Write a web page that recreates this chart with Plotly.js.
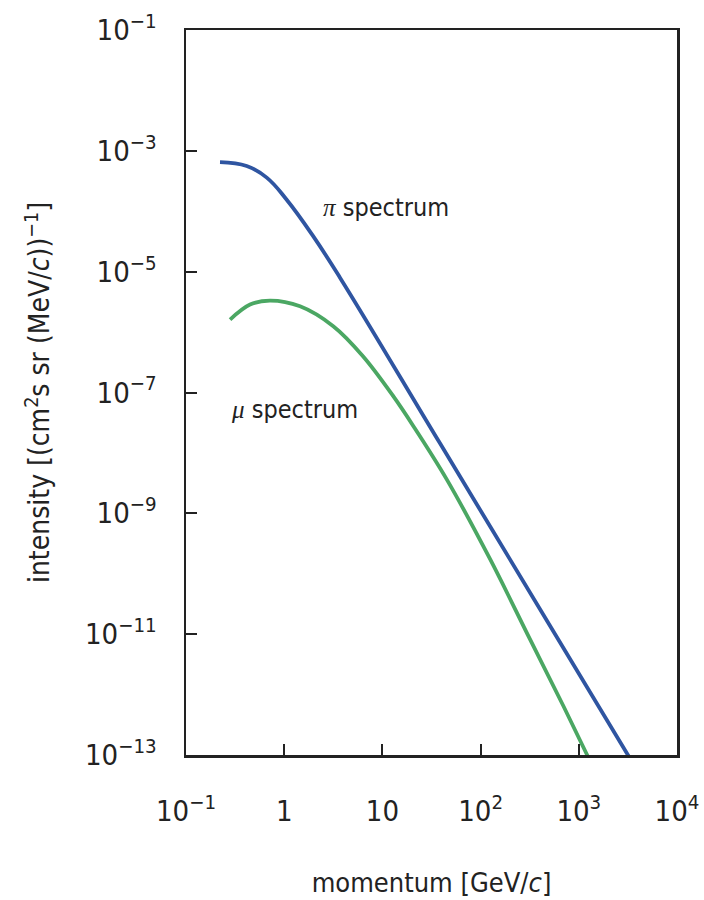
<!DOCTYPE html>
<html>
<head>
<meta charset="utf-8">
<script src="https://cdn.plot.ly/plotly-3.0.1.min.js"></script>
<style>html,body{margin:0;padding:0;background:#fff;}#chart{width:704px;height:900px;}</style>
</head>
<body>
<div id="chart"></div>
<script>
// momentum [GeV/c] and intensity [(cm^2 s sr (MeV/c))^-1]
const piMomentum = [0.222, 0.415, 0.664, 1.06, 1.98, 3.70, 38.6, 403, 4198];
const piIntensity = [6.5e-4, 5.6e-4, 3.6e-4, 1.55e-4, 3.83e-5, 7.96e-6, 1.44e-8, 2.59e-11, 4.67e-14];

const muMomentum = [0.281, 0.449, 0.716, 1.45, 3.16, 6.34, 12.9, 20.7, 45.2, 125, 318, 695, 1202, 1644];
const muIntensity = [1.61e-6, 2.85e-6, 3.32e-6, 2.67e-6, 1.25e-6, 3.98e-7, 8.69e-8, 2.77e-8, 3.65e-9, 1.74e-10, 8.26e-12, 6.53e-13, 1.04e-13, 3.58e-14];

const xTickVals = [0.1, 1, 10, 100, 1000, 10000];
const xTickText = ["10<sup>−1</sup>", "1", "10", "10<sup>2</sup>", "10<sup>3</sup>", "10<sup>4</sup>"];
const yTickVals = [1e-1, 1e-3, 1e-5, 1e-7, 1e-9, 1e-11, 1e-13];
const yTickText = ["10<sup>−1</sup>", "10<sup>−3</sup>", "10<sup>−5</sup>", "10<sup>−7</sup>", "10<sup>−9</sup>", "10<sup>−11</sup>", "10<sup>−13</sup>"];

const FONT = "'Liberation Sans Narrow', 'DejaVu Sans Condensed', 'Roboto', sans-serif";
const SERIF = "Liberation Serif, DejaVu Serif, serif";

const traces = [
  {x: piMomentum, y: piIntensity, mode: "lines", name: "π spectrum",
   line: {color: "#2f55a1", width: 3.8, shape: "spline", smoothing: 1.2}},
  {x: muMomentum, y: muIntensity, mode: "lines", name: "μ spectrum",
   line: {color: "#4ba763", width: 3.8, shape: "spline", smoothing: 1}}
];

const axisCommon = {
  type: "log", showgrid: false, zeroline: false,
  showline: true, mirror: true, linecolor: "#222", linewidth: 2.5,
  ticks: "inside", ticklen: 11, tickwidth: 2, tickcolor: "#222",
  tickmode: "array", tickfont: {family: FONT, size: 29, color: "#222"}
};

const layout = {
  width: 704, height: 900,
  margin: {l: 186, r: 27, t: 30, b: 145},
  paper_bgcolor: "#fff", plot_bgcolor: "#fff",
  showlegend: false,
  font: {family: FONT, color: "#222"},
  xaxis: Object.assign({}, axisCommon, {
    range: [-1, 4], tickvals: xTickVals, ticktext: xTickText,
    ticklabelstandoff: 29,
    title: {text: "momentum [GeV/<i>c</i>]", font: {family: FONT, size: 27, color: "#222"}, standoff: 46}
  }),
  yaxis: Object.assign({}, axisCommon, {
    range: [-13, -1], tickvals: yTickVals, ticktext: yTickText,
    ticklabelstandoff: 21,
    title: {text: "intensity [(cm<sup>2</sup>s sr (MeV/<i>c</i>))<sup>−1</sup>]", font: {family: FONT, size: 28, color: "#222"}, standoff: 27}
  }),
  annotations: [
    {x: 1.037, y: -3.94, xref: "x", yref: "y", showarrow: false,
     text: "<span style=\"font-family:" + SERIF + "\"><i>π</i></span> spectrum",
     font: {family: FONT, size: 25, color: "#222"}},
    {x: 0.105, y: -7.28, xref: "x", yref: "y", showarrow: false,
     text: "<span style=\"font-family:" + SERIF + "\"><i>μ</i></span> spectrum",
     font: {family: FONT, size: 25, color: "#222"}}
  ]
};

Plotly.newPlot("chart", traces, layout, {staticPlot: true, displayModeBar: false});
</script>
</body>
</html>
